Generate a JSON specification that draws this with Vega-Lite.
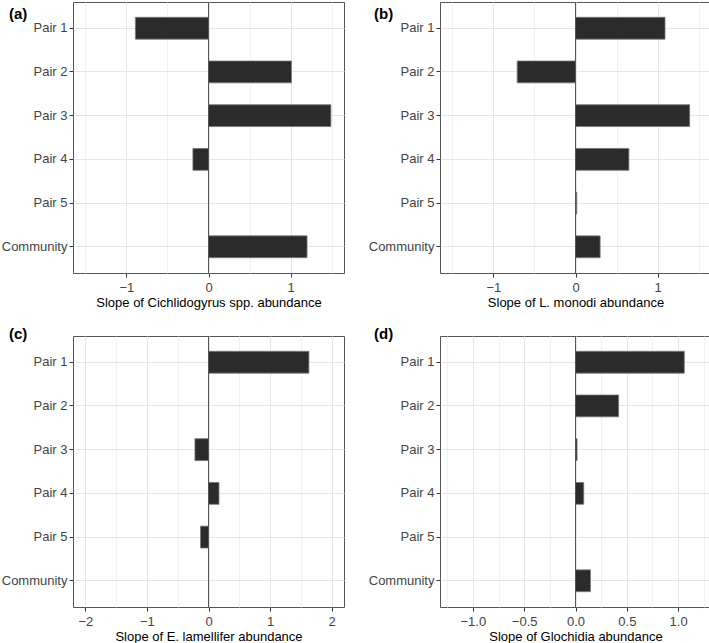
{
  "$schema": "https://vega.github.io/schema/vega-lite/v6.json",
  "padding": {"left": 0, "top": 1, "right": 0, "bottom": 0},
  "background": "white",
  "data": {"values": [
    {"panel": "a", "pair": "Pair 1", "slope": -0.89},
    {"panel": "a", "pair": "Pair 2", "slope": 1.01},
    {"panel": "a", "pair": "Pair 3", "slope": 1.49},
    {"panel": "a", "pair": "Pair 4", "slope": -0.19},
    {"panel": "a", "pair": "Community", "slope": 1.2},
    {"panel": "b", "pair": "Pair 1", "slope": 1.09},
    {"panel": "b", "pair": "Pair 2", "slope": -0.71},
    {"panel": "b", "pair": "Pair 3", "slope": 1.39},
    {"panel": "b", "pair": "Pair 4", "slope": 0.65},
    {"panel": "b", "pair": "Pair 5", "slope": 0.015},
    {"panel": "b", "pair": "Community", "slope": 0.3},
    {"panel": "c", "pair": "Pair 1", "slope": 1.63},
    {"panel": "c", "pair": "Pair 3", "slope": -0.22},
    {"panel": "c", "pair": "Pair 4", "slope": 0.17},
    {"panel": "c", "pair": "Pair 5", "slope": -0.13},
    {"panel": "d", "pair": "Pair 1", "slope": 1.06},
    {"panel": "d", "pair": "Pair 2", "slope": 0.42},
    {"panel": "d", "pair": "Pair 3", "slope": 0.015},
    {"panel": "d", "pair": "Pair 4", "slope": 0.08},
    {"panel": "d", "pair": "Community", "slope": 0.146}
  ]},
  "config": {
    "font": "Liberation Sans",
    "view": {"stroke": "#555555", "strokeWidth": 1},
    "title": {"anchor": "start", "frame": "group", "fontSize": 15, "fontWeight": "bold", "font": "Liberation Sans", "color": "#000000", "baseline": "top"},
    "axis": {
      "labelFont": "Liberation Sans", "labelFontSize": 13, "labelColor": "#444444",
      "titleFont": "Liberation Sans", "titleFontSize": 13, "titleFontWeight": "normal", "titleColor": "#000000",
      "domain": false, "tickColor": "#333333", "tickSize": 4, "tickWidth": 1,
      "labelPadding": 2, "titlePadding": 3,
      "gridColor": "#e6e6e6", "gridWidth": 1
    },
    "axisX": {"labelPadding": 4, "titlePadding": 2, "tickCount": 50}
  },
  "spacing": 16,
  "vconcat": [
    {
      "spacing": 22,
      "hconcat": [
        {
          "width": 271, "height": 271,
          "title": {"text": "(a)", "dx": -64, "offset": -20},
          "transform": [{"filter": "datum.panel == 'a'"}],
          "layer": [
            {
              "mark": {"type": "bar", "fill": "#2b2b2b", "stroke": "#777777", "strokeWidth": 0.8},
              "encoding": {
                "y": {"field": "pair", "type": "nominal", "sort": ["Pair 1", "Pair 2", "Pair 3", "Pair 4", "Pair 5", "Community"],
                  "scale": {"domain": ["Pair 1", "Pair 2", "Pair 3", "Pair 4", "Pair 5", "Community"], "paddingInner": 0.5, "paddingOuter": 0.35},
                  "axis": {"title": null, "grid": true}},
                "x": {"field": "slope", "type": "quantitative",
                  "scale": {"domain": [-1.65, 1.65], "nice": false, "zero": false},
                  "axis": {"title": "Slope of Cichlidogyrus spp. abundance",
                    "values": [-1.5, -1, -0.5, 0, 0.5, 1, 1.5], "format": ".1f", "tickCount": 50,
                    "labelOverlap": false, "labelBound": false, "labelFlush": false,
                    "labelExpr": "abs(datum.value % 1) > 0.01 ? '' : format(datum.value, 'd')",
                    "tickOpacity": {"condition": {"test": "abs(datum.value % 1) > 0.01", "value": 0}, "value": 1},
                    "gridColor": {"condition": {"test": "abs(datum.value % 1) > 0.01", "value": "#eeeeee"}, "value": "#e6e6e6"},
                    "gridWidth": {"condition": {"test": "abs(datum.value % 1) > 0.01", "value": 0.8}, "value": 1}}}
              }
            },
            {
              "data": {"values": [{"z": 0}]},
              "mark": {"type": "rule", "color": "#555555", "strokeWidth": 1},
              "encoding": {"x": {"datum": 0}}
            }
          ]
        },
        {
          "width": 271, "height": 271,
          "title": {"text": "(b)", "dx": -66, "offset": -20},
          "transform": [{"filter": "datum.panel == 'b'"}],
          "layer": [
            {
              "mark": {"type": "bar", "fill": "#2b2b2b", "stroke": "#777777", "strokeWidth": 0.8},
              "encoding": {
                "y": {"field": "pair", "type": "nominal", "sort": ["Pair 1", "Pair 2", "Pair 3", "Pair 4", "Pair 5", "Community"],
                  "scale": {"domain": ["Pair 1", "Pair 2", "Pair 3", "Pair 4", "Pair 5", "Community"], "paddingInner": 0.5, "paddingOuter": 0.35},
                  "axis": {"title": null, "grid": true}},
                "x": {"field": "slope", "type": "quantitative",
                  "scale": {"domain": [-1.65, 1.65], "nice": false, "zero": false},
                  "axis": {"title": "Slope of L. monodi abundance",
                    "values": [-1.5, -1, -0.5, 0, 0.5, 1, 1.5], "format": ".1f", "tickCount": 50,
                    "labelOverlap": false, "labelBound": false, "labelFlush": false,
                    "labelExpr": "abs(datum.value % 1) > 0.01 ? '' : format(datum.value, 'd')",
                    "tickOpacity": {"condition": {"test": "abs(datum.value % 1) > 0.01", "value": 0}, "value": 1},
                    "gridColor": {"condition": {"test": "abs(datum.value % 1) > 0.01", "value": "#eeeeee"}, "value": "#e6e6e6"},
                    "gridWidth": {"condition": {"test": "abs(datum.value % 1) > 0.01", "value": 0.8}, "value": 1}}}
              }
            },
            {
              "data": {"values": [{"z": 0}]},
              "mark": {"type": "rule", "color": "#555555", "strokeWidth": 1},
              "encoding": {"x": {"datum": 0}}
            }
          ]
        }
      ]
    },
    {
      "spacing": 22,
      "hconcat": [
        {
          "width": 271, "height": 271,
          "title": {"text": "(c)", "dx": -64, "offset": -6},
          "transform": [{"filter": "datum.panel == 'c'"}],
          "layer": [
            {
              "mark": {"type": "bar", "fill": "#2b2b2b", "stroke": "#777777", "strokeWidth": 0.8},
              "encoding": {
                "y": {"field": "pair", "type": "nominal", "sort": ["Pair 1", "Pair 2", "Pair 3", "Pair 4", "Pair 5", "Community"],
                  "scale": {"domain": ["Pair 1", "Pair 2", "Pair 3", "Pair 4", "Pair 5", "Community"], "paddingInner": 0.5, "paddingOuter": 0.35},
                  "axis": {"title": null, "grid": true}},
                "x": {"field": "slope", "type": "quantitative",
                  "scale": {"domain": [-2.2, 2.2], "nice": false, "zero": false},
                  "axis": {"title": "Slope of E. lamellifer abundance",
                    "values": [-2, -1.5, -1, -0.5, 0, 0.5, 1, 1.5, 2], "format": ".1f", "tickCount": 50,
                    "labelOverlap": false, "labelBound": false, "labelFlush": false,
                    "labelExpr": "abs(datum.value % 1) > 0.01 ? '' : format(datum.value, 'd')",
                    "tickOpacity": {"condition": {"test": "abs(datum.value % 1) > 0.01", "value": 0}, "value": 1},
                    "gridColor": {"condition": {"test": "abs(datum.value % 1) > 0.01", "value": "#eeeeee"}, "value": "#e6e6e6"},
                    "gridWidth": {"condition": {"test": "abs(datum.value % 1) > 0.01", "value": 0.8}, "value": 1}}}
              }
            },
            {
              "data": {"values": [{"z": 0}]},
              "mark": {"type": "rule", "color": "#555555", "strokeWidth": 1},
              "encoding": {"x": {"datum": 0}}
            }
          ]
        },
        {
          "width": 271, "height": 271,
          "title": {"text": "(d)", "dx": -66, "offset": -6},
          "transform": [{"filter": "datum.panel == 'd'"}],
          "layer": [
            {
              "mark": {"type": "bar", "fill": "#2b2b2b", "stroke": "#777777", "strokeWidth": 0.8},
              "encoding": {
                "y": {"field": "pair", "type": "nominal", "sort": ["Pair 1", "Pair 2", "Pair 3", "Pair 4", "Pair 5", "Community"],
                  "scale": {"domain": ["Pair 1", "Pair 2", "Pair 3", "Pair 4", "Pair 5", "Community"], "paddingInner": 0.5, "paddingOuter": 0.35},
                  "axis": {"title": null, "grid": true}},
                "x": {"field": "slope", "type": "quantitative",
                  "scale": {"domain": [-1.32, 1.32], "nice": false, "zero": false},
                  "axis": {"title": "Slope of Glochidia abundance",
                    "values": [-1.25, -1, -0.75, -0.5, -0.25, 0, 0.25, 0.5, 0.75, 1, 1.25],
                    "format": ".2f", "tickCount": 50,
                    "labelOverlap": false, "labelBound": false, "labelFlush": false,
                    "labelExpr": "indexof([-1, -0.5, 0, 0.5, 1], datum.value) < 0 ? '' : format(datum.value, '.1f')",
                    "tickOpacity": {"condition": {"test": "indexof([-1, -0.5, 0, 0.5, 1], datum.value) < 0", "value": 0}, "value": 1},
                    "gridColor": {"condition": {"test": "indexof([-1, -0.5, 0, 0.5, 1], datum.value) < 0", "value": "#eeeeee"}, "value": "#e6e6e6"},
                    "gridWidth": {"condition": {"test": "indexof([-1, -0.5, 0, 0.5, 1], datum.value) < 0", "value": 0.8}, "value": 1}}}
              }
            },
            {
              "data": {"values": [{"z": 0}]},
              "mark": {"type": "rule", "color": "#555555", "strokeWidth": 1},
              "encoding": {"x": {"datum": 0}}
            }
          ]
        }
      ]
    }
  ]
}
